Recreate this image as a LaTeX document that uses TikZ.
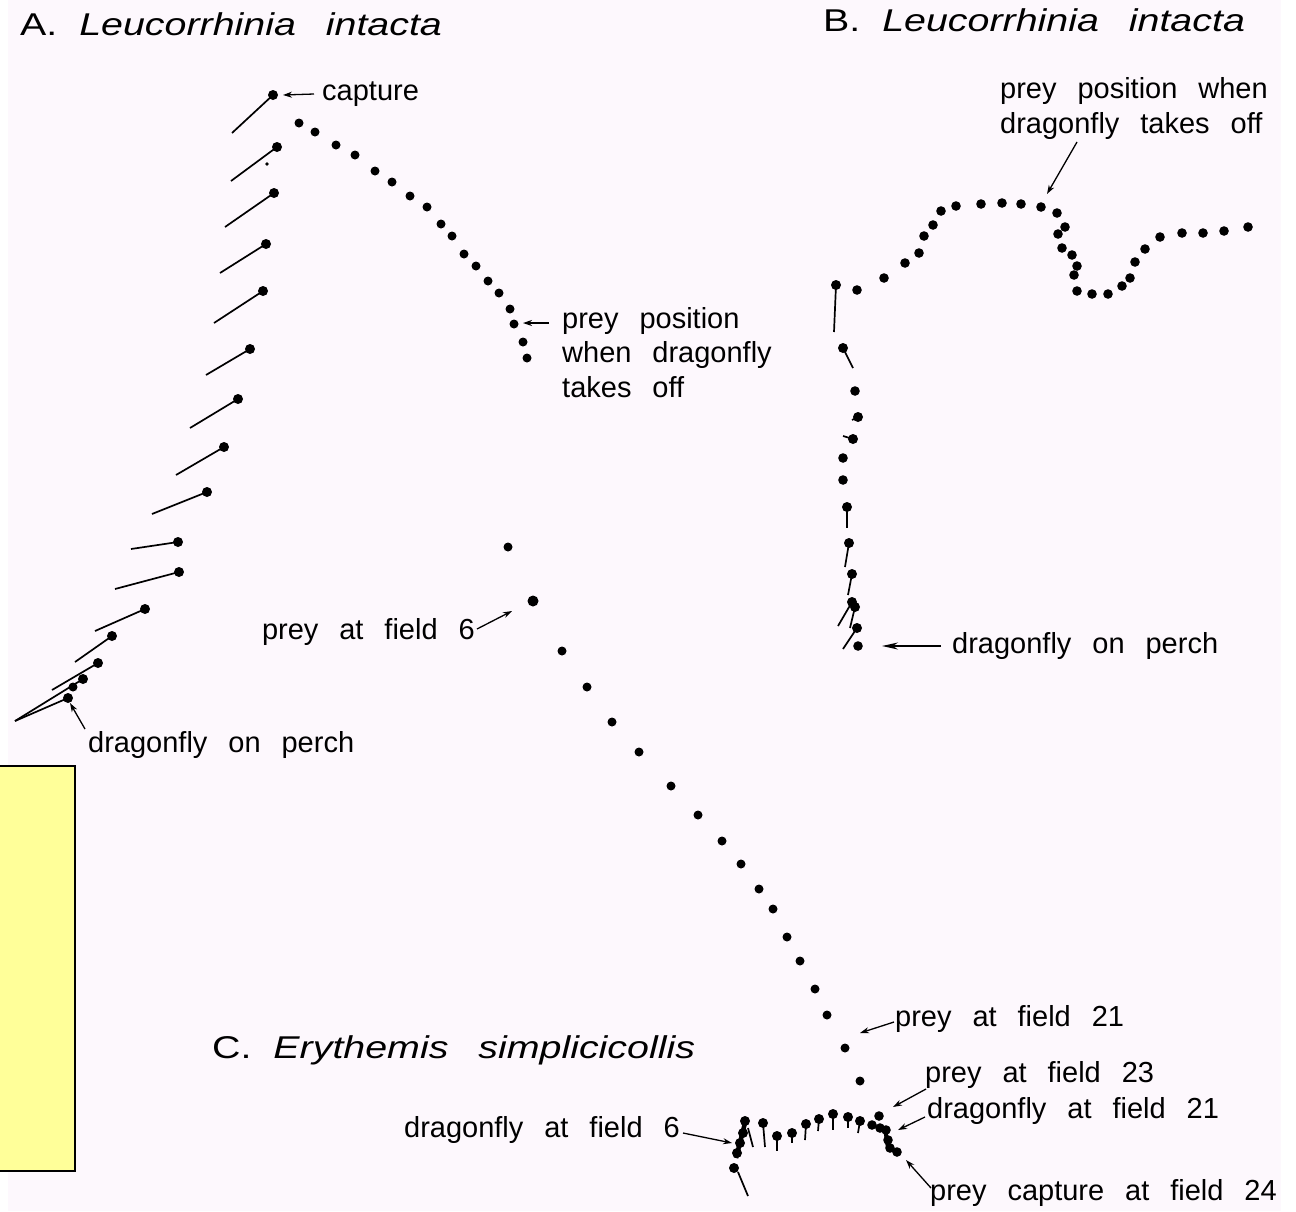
\documentclass[tikz,border=0pt]{standalone}
\usepackage{fontspec}
\setmainfont{Liberation Sans}[WordSpace=2.6]
\newfontfamily\ttlfont{Liberation Sans}[FakeStretch=1.25,WordSpace=2.0]
\usetikzlibrary{arrows.meta}
\definecolor{bgpink}{HTML}{FDF8FD}
\definecolor{boxyellow}{HTML}{FFFF99}
\newcommand{\gap}{\hspace{30pt}}
\begin{document}
\begin{tikzpicture}[x=1pt,y=-1pt,
  lbl/.style={anchor=base west, inner sep=0pt, font=\fontsize{29}{35}\selectfont},
  ttl/.style={anchor=base west, inner sep=0pt, font=\ttlfont\fontsize{31.5}{37}\selectfont},
  tail/.style={line width=1.7pt},
  arr/.style={line width=1.3pt, -{Stealth[length=9pt,width=6pt]}},
  bigarr/.style={line width=1.8pt, -{Stealth[length=16pt,width=7pt]}},
]
\useasboundingbox (0,0) rectangle (1296,1211);
\fill[white] (0,0) rectangle (1296,1211);
\fill[bgpink] (8,0) rectangle (1281,1211);

% ---------- Panel A ----------
\node[ttl] (tA) at (20,35) {A. \textit{Leucorrhinia}\gap\textit{intacta}};
% dragonfly positions with body lines
\foreach \x/\y/\u/\v in {273/95/232/133, 277/147/231/181, 274/193/225/227, 266/244/220/273,
  263/291/214/323, 250/349/206/375, 238/399/190/428, 224/447/176/475, 207/492/152/514,
  178/542/131/549, 179/572/115/589, 145/609/95/631, 112/636/75/662, 98/663/52/690,
  83/679/15/721, 68/698/15/721}
  {\draw[tail] (\x,\y) -- (\u,\v); \fill (\x,\y) circle (5pt);}
\fill (73,687) circle (4.5pt);
\fill (267,164) circle (1.8pt);
% prey positions
\foreach \x/\y in {299/123, 315/132, 336/145, 355/155, 375/171, 392/182, 410/196, 427/207,
  441/224, 452/236, 464/254, 476/266, 488/281, 499/293, 510/309, 514/324, 523/342, 527/358}
  {\fill (\x,\y) circle (4.5pt);}
\node[lbl] (capA) at (322,100) {capture};
\coordinate (capS) at (314,94);
\coordinate (capT) at (283,95);
\draw[arr] (capS) -- (capT);
\node[lbl] (ppA1) at (562,328) {prey position};
\node[lbl] (ppA2) at (562,362) {when dragonfly};
\node[lbl] (ppA3) at (562,397) {takes off};
\coordinate (ppS) at (549,323);
\coordinate (ppT) at (523,323);
\draw[arr] (ppS) -- (ppT);
\node[lbl] (perchA) at (88,752) {dragonfly on perch};
\coordinate (perchAS) at (85,729);
\coordinate (perchAT) at (70,703);
\draw[arr] (perchAS) -- (perchAT);

% ---------- Panel B ----------
\node[ttl] (tB) at (823,31) {B. \textit{Leucorrhinia}\gap\textit{intacta}};
\node[lbl] (ppB1) at (1000,98) {prey position when};
\node[lbl] (ppB2) at (1000,133) {dragonfly takes off};
\coordinate (ppBS) at (1077,142);
\coordinate (ppBT) at (1047,194);
\draw[arr] (ppBS) -- (ppBT);
\foreach \x/\y in {857/290, 884/278, 905/263, 919/253, 924/236, 933/225, 941/211, 956/206,
  981/204, 1002/203, 1021/204, 1041/207, 1057/213, 1065/227, 1058/234, 1062/248, 1072/255,
  1077/266, 1074/275, 1077/291, 1092/294, 1108/294, 1122/286, 1130/278, 1135/262, 1145/249,
  1160/237, 1182/233, 1203/233, 1224/231, 1248/227}
  {\fill (\x,\y) circle (4.8pt);}
\foreach \x/\y/\u/\v in {836/285/834/332, 843/348/853/368, 858/417/852/420, 853/439/843/436,
  847/507/847/528, 849/543/845/567, 852/574/848/595, 852/602/838/626, 855/607/850/628,
  857/628/843/649}
  {\draw[tail] (\x,\y) -- (\u,\v); \fill (\x,\y) circle (5pt);}
\foreach \x/\y in {855/391, 843/458, 843/480, 858/646}
  {\fill (\x,\y) circle (4.8pt);}
\node[lbl] (perchB) at (952,653) {dragonfly on perch};
\coordinate (perchBS) at (941,646);
\coordinate (perchBT) at (882,646);
\draw[bigarr] (perchBS) -- (perchBT);

% ---------- Panel C ----------
\node[ttl] (tC) at (212,1058) {C. \textit{Erythemis}\gap\textit{simplicicollis}};
\foreach \x/\y in {508/547, 562/651, 587/687, 612/722, 639/752, 671/786, 698/815, 722/841,
  741/864, 759/889, 773/909, 787/937, 800/961, 815/989, 827/1015, 845/1048, 860/1081}
  {\fill (\x,\y) circle (4.5pt);}
\fill (533,601) circle (5.5pt);
\node[lbl, anchor=base east] (pf6) at (475,639) {prey at field 6};
\coordinate (pf6S) at (477,629);
\coordinate (pf6T) at (512,611);
\draw[arr] (pf6S) -- (pf6T);
\node[lbl] (pf21) at (895,1026) {prey at field 21};
\coordinate (pf21S) at (894,1022);
\coordinate (pf21T) at (860,1033);
\draw[arr] (pf21S) -- (pf21T);
\node[lbl] (pf23) at (925,1082) {prey at field 23};
\coordinate (pf23S) at (926,1089);
\coordinate (pf23T) at (893,1107);
\draw[arr] (pf23S) -- (pf23T);
\node[lbl] (df21) at (927,1118) {dragonfly at field 21};
\coordinate (df21S) at (925,1117);
\coordinate (df21T) at (898,1130);
\draw[arr] (df21S) -- (df21T);
\node[lbl, anchor=base east] (df6) at (680,1137) {dragonfly at field 6};
\coordinate (df6S) at (683,1133);
\coordinate (df6T) at (732,1143);
\draw[arr] (df6S) -- (df6T);
\node[lbl] (pc24) at (930,1200) {prey capture at field 24};
\coordinate (pc24S) at (931,1188);
\coordinate (pc24T) at (906,1160);
\draw[arr] (pc24S) -- (pc24T);
% dragonfly row in C
\foreach \x/\y/\u/\v in {763/1123/765/1147, 777/1136/777/1151, 792/1133/792/1143,
  806/1124/805/1140, 819/1119/818/1131, 833/1114/833/1130, 848/1117/848/1128, 860/1121/858/1133}
  {\draw[tail] (\x,\y) -- (\u,\v); \fill (\x,\y) circle (5pt);}
% cluster at field 21-24
\draw[line width=4pt] (885,1128) -- (888,1148) -- (897,1152);
\foreach \x/\y in {872/1125, 879/1116, 880/1128, 886/1130, 888/1140, 890/1148, 897/1152}
  {\fill (\x,\y) circle (4.8pt);}
% cluster at field 6
\draw[line width=4.5pt] (746,1119) -- (736,1158);
\draw[tail] (748,1128) -- (753,1147);
\draw[tail] (738,1172) -- (748,1196);
\foreach \x/\y in {745/1121, 743/1133, 740/1143, 737/1153, 734/1168}
  {\fill (\x,\y) circle (5pt);}

% ---------- yellow box ----------
\draw[line width=2pt, fill=boxyellow] (-3,766) rectangle (75,1171);
\end{tikzpicture}
\end{document}
